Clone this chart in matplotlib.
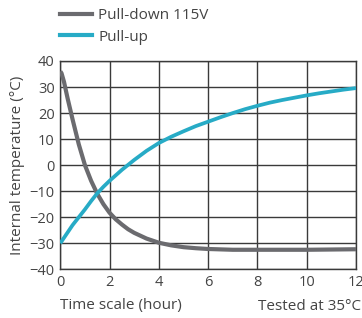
import matplotlib
matplotlib.use("Agg")
import matplotlib.pyplot as plt
from matplotlib.lines import Line2D

plt.rcParams['font.family'] = ['Open Sans', 'DejaVu Sans']

# Data
pd_t = [0, 0.05, 0.15, 0.3, 0.5, 0.75, 1.0, 1.25, 1.5, 1.75, 2.0, 2.25, 2.5, 2.75,
        3.0, 3.5, 4.0, 4.5, 5.0, 5.5, 6.0, 7.0, 8.0, 10.0, 12.0]
pd_v = [36, 35.3, 32, 25.5, 17.5, 8, 0, -6, -11, -15, -18.3, -20.8, -22.8, -24.6,
        -26, -28.2, -29.8, -30.8, -31.5, -31.9, -32.2, -32.5, -32.5, -32.5, -32.3]
pu_t = [0, 0.25, 0.5, 0.75, 1.0, 1.25, 1.5, 1.75, 2.0, 2.5, 3.0, 3.5, 4.0, 4.5, 5.0,
        5.5, 6.0, 6.5, 7.0, 7.5, 8.0, 8.5, 9.0, 9.5, 10.0, 10.5, 11.0, 11.5, 12.0]
pu_v = [-30, -26.5, -23, -20, -17, -13.8, -10.8, -8.3, -6, -1.8, 2, 5.5, 8.5, 10.9, 13,
        15, 16.7, 18.4, 20, 21.5, 22.8, 24, 25, 25.9, 26.8, 27.6, 28.3, 29, 29.6]
series_labels = ["Pull-down 115V", "Pull-up"]
xticks = [0, 2, 4, 6, 8, 10, 12]
yticks = [40, 30, 20, 10, 0, -10, -20, -30, -40]

gray = '#6b6b6f'
blue = '#27abc6'
txt = '#444444'

fig = plt.figure(figsize=(3.62, 3.18), dpi=100)
W, H = 362, 318
ax = fig.add_axes([60.3 / W, 1 - 269.3 / H, (356 - 60.3) / W, (269.3 - 61) / H])

ax.plot(pd_t, pd_v, color=gray, lw=3.0, solid_capstyle='butt', solid_joinstyle='round', zorder=3)
ax.plot(pu_t, pu_v, color=blue, lw=2.7, solid_capstyle='butt', solid_joinstyle='round', zorder=3)

ax.set_xlim(0, 12)
ax.set_ylim(-40, 40)
ax.set_xticks(xticks)
ax.set_yticks(yticks)
ax.grid(True, color='#3a3a3a', lw=1.0)
for s in ax.spines.values():
    s.set_color('#3a3a3a')
    s.set_linewidth(1.0)
ax.tick_params(length=0, labelsize=10.5, labelcolor=txt, pad=4)

ax.set_ylabel("Internal temperature (°C)", fontsize=11, color=txt, labelpad=3)
fig.text(60 / W, 1 - 306 / H, "Time scale (hour)", fontsize=11, color=txt, ha='left', va='center')
fig.text(361 / W, 1 - 306 / H, "Tested at 35°C", fontsize=11, color=txt, ha='right', va='center')

handles = [Line2D([], [], color=gray, lw=3.0), Line2D([], [], color=blue, lw=3.0)]
fig.legend(handles, series_labels, loc='upper left', bbox_to_anchor=(54 / W, 1 - 2 / H),
           borderaxespad=0, frameon=False, fontsize=11, handlelength=2.1, handletextpad=0.4,
           labelspacing=0.42, labelcolor=txt)

fig.savefig('out.png', dpi=100)
